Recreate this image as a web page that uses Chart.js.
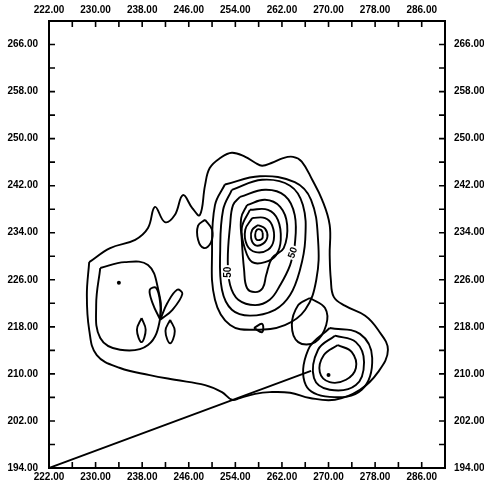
<!DOCTYPE html>
<html>
<head>
<meta charset="utf-8">
<script src="https://cdn.jsdelivr.net/npm/chart.js@4"></script>
<style>
html, body { margin: 0; padding: 0; background: #fff; }
</style>
</head>
<body>
<canvas id="chart" width="484" height="491"></canvas>
<script>
// axis ranges and tick labels
var xTickLabels = [222, 230, 238, 246, 254, 262, 270, 278, 286];
var yTickLabels = [194, 202, 210, 218, 226, 234, 242, 250, 258, 266];

// contour lines, [x, y] in map units
var outer = [[228.9,229.0],[232.5,231.4],[236.8,232.8],[239.0,234.8],[240.2,238.4],[241.9,235.8],[243.6,237.0],[245.0,240.4],[246.6,238.2],[247.9,237.0],[248.8,242.1],[249.6,245.0],[251.4,246.7],[253.4,247.6],[255.7,246.9],[257.4,245.9],[258.6,245.4],[260.3,245.9],[262.2,246.7],[263.9,246.9],[265.4,246.1],[267.2,243.0],[268.9,239.6],[270.2,235.3],[270.2,230.2],[270.4,226.0],[270.9,223.1],[272.8,221.6],[276.3,219.9],[278.5,217.5],[280.2,214.1],[278.5,210.3],[275.4,207.3],[271.1,205.6],[266.8,205.9],[263.4,206.8],[259.9,206.9],[257.4,206.6],[254.8,205.9],[253.4,205.6],[251.7,206.9],[248.8,208.1],[243.6,209.0],[239.3,209.8],[234.2,211.0],[230.2,213.2],[228.9,217.5],[228.5,223.4]];

var hill1 = [[258.7,234.0],[258.6,233.0],[257.7,232.8],[257.4,233.6],[257.7,234.5],[258.4,234.5]];
var hill2 = [[257.9,235.3],[259.1,234.7],[259.5,233.3],[258.7,232.1],[257.4,231.9],[256.7,233.1],[256.9,234.5]];
var hill3 = [[256.9,236.5],[259.1,236.5],[260.3,235.3],[260.6,232.8],[259.6,231.1],[257.5,230.7],[256.0,231.9],[255.7,234.5]];
var hill4 = [[256.5,237.9],[259.6,237.9],[261.3,236.2],[261.8,232.8],[261.0,230.2],[259.1,229.0],[256.9,229.0],[255.7,231.1],[255.1,234.8]];
var hill5 = [[256.0,238.7],[259.1,239.6],[261.7,238.4],[262.9,235.3],[262.3,231.4],[260.3,229.7],[259.3,226.8],[258.7,224.6],[257.4,223.9],[256.0,224.6],[255.5,227.7],[255.1,232.8],[255.0,236.5]];
var hill6 = [[254.8,240.1],[259.1,241.3],[262.5,240.3],[264.2,237.0],[264.2,231.9],[263.4,228.5],[261.7,225.1],[259.9,222.6],[257.4,221.7],[254.5,222.6],[253.1,225.1],[252.7,229.4],[253.1,235.3],[253.6,238.7]];
var hill7 = [[253.4,241.3],[258.6,243.0],[263.4,242.0],[265.6,238.7],[266.0,232.8],[265.1,227.7],[263.4,223.4],[260.8,220.9],[256.5,219.9],[253.4,220.9],[251.7,224.3],[251.4,231.1],[251.9,237.9]];
var hill8 = [[252.2,242.2],[258.2,243.6],[264.2,242.6],[267.0,239.6],[268.2,232.8],[267.9,226.0],[266.0,220.9],[262.5,218.3],[257.4,217.5],[253.1,218.3],[250.5,222.6],[250.0,231.1],[250.5,238.7]];
var westOval = [[248.8,236.2],[250.0,234.5],[249.8,232.3],[248.6,231.4],[247.6,232.8],[247.6,235.2]];

var eastPeak1 = [[271.6,214.9],[274.0,213.7],[274.7,211.0],[273.0,209.0],[270.2,208.6],[268.5,210.3],[269.2,213.2]];
var eastPeak2 = [[271.1,216.5],[274.7,215.4],[276.1,212.0],[274.7,208.1],[270.2,207.3],[267.5,209.3],[268.2,214.1]];
var eastPeak3 = [[270.2,217.8],[275.4,216.8],[277.5,212.7],[275.7,207.3],[270.2,206.1],[266.1,208.1],[266.5,214.1]];
var eastOval = [[266.8,222.9],[269.4,221.2],[269.6,218.3],[267.7,215.4],[264.8,215.4],[263.7,218.3],[264.8,221.7]];

var leftLobe = [[230.8,228.0],[235.0,229.0],[239.0,228.5],[240.7,224.6],[241.1,219.5],[239.0,214.9],[234.2,214.1],[230.8,216.1],[230.1,221.7]];
var wingA = [[241.1,219.2],[239.8,222.0],[239.3,224.3],[240.4,224.6],[241.1,222.0]];
var wingB = [[241.1,219.2],[242.3,222.0],[244.0,224.3],[244.9,223.6],[243.2,220.9]];
var dropA = [[237.9,219.5],[238.6,217.5],[237.9,215.4],[237.1,217.5]];
var dropB = [[242.8,219.2],[243.6,217.3],[242.8,215.2],[242.0,217.3]];
var notch = [[257.2,217.8],[258.6,218.5],[258.6,217.1]];

var spokeLine = [[222.0,194.0],[267.0,210.5]];
var peakDots = [[234.0,225.5],[270.0,209.8]];

var contourLabels = [
  { text: '50', x: 252.7, y: 227.3, angle: -90 },
  { text: '50', x: 263.9, y: 230.6, angle: -70 }
];

function pts(a) {
  return a.map(function(p) { return { x: p[0], y: p[1] }; });
}
function loop(a) {
  return pts(a.concat([a[0]]));
}

var loops = [outer, hill1, hill2, hill3, hill4, hill5, hill6, hill7, hill8, westOval,
  eastPeak1, eastPeak2, eastPeak3, eastOval, leftLobe, wingA, wingB, dropA, dropB, notch];

var datasets = loops.map(function(c) {
  return {
    data: loop(c),
    showLine: true,
    borderColor: '#000',
    borderWidth: 1.9,
    pointRadius: 0,
    tension: 0.4,
    fill: false
  };
});
datasets.push({
  data: pts(spokeLine),
  showLine: true,
  borderColor: '#000',
  borderWidth: 1.9,
  pointRadius: 0,
  tension: 0
});
datasets.push({
  data: pts(peakDots),
  showLine: false,
  pointRadius: 2,
  pointBackgroundColor: '#000',
  pointBorderWidth: 0
});

// tick marks pointing into the plot, plus the contour level labels
var innerTicks = {
  id: 'innerTicks',
  afterDatasetsDraw: function(chart) {
    var ctx = chart.ctx;
    var a = chart.chartArea;
    var len = 6;
    ctx.save();
    ctx.strokeStyle = '#000';
    ctx.lineWidth = 1.6;
    ctx.beginPath();
    ['x', 'x2'].forEach(function(id) {
      var s = chart.scales[id];
      s.ticks.forEach(function(t) {
        var px = s.getPixelForValue(t.value);
        if (id == 'x') { ctx.moveTo(px, a.bottom); ctx.lineTo(px, a.bottom - len); }
        else { ctx.moveTo(px, a.top); ctx.lineTo(px, a.top + len); }
      });
    });
    ['y', 'y2'].forEach(function(id) {
      var s = chart.scales[id];
      s.ticks.forEach(function(t) {
        var py = s.getPixelForValue(t.value);
        if (id == 'y') { ctx.moveTo(a.left, py); ctx.lineTo(a.left + len, py); }
        else { ctx.moveTo(a.right, py); ctx.lineTo(a.right - len, py); }
      });
    });
    ctx.stroke();

    ctx.font = 'bold 10px "Liberation Sans"';
    ctx.textAlign = 'center';
    ctx.textBaseline = 'middle';
    contourLabels.forEach(function(l) {
      var px = chart.scales.x.getPixelForValue(l.x);
      var py = chart.scales.y.getPixelForValue(l.y);
      ctx.save();
      ctx.translate(px, py);
      ctx.rotate(l.angle * Math.PI / 180);
      ctx.fillStyle = '#fff';
      ctx.fillRect(-7, -5, 14, 10);
      ctx.fillStyle = '#000';
      ctx.fillText(l.text, 0, 0);
      ctx.restore();
    });
    ctx.restore();
  }
};

function xLabel(v) {
  return xTickLabels.indexOf(v) >= 0 ? v.toFixed(2) : '';
}
function yLabel(v) {
  return yTickLabels.indexOf(v) >= 0 ? v.toFixed(2) : '';
}

var tickFont = { family: 'Liberation Sans', weight: 'bold', size: 10 };

function xAxis(pos, size, pad) {
  return {
    type: 'linear', axis: 'x', position: pos, min: 222, max: 290,
    grid: { display: false, drawTicks: false },
    border: { display: true, color: '#000', width: 2 },
    ticks: { stepSize: 4, autoSkip: false, maxRotation: 0, padding: pad, color: '#000', font: tickFont, callback: xLabel },
    afterFit: function(s) { s.height = size; }
  };
}
function yAxis(pos, size, pad) {
  return {
    type: 'linear', axis: 'y', position: pos, min: 194, max: 270,
    grid: { display: false, drawTicks: false },
    border: { display: true, color: '#000', width: 2 },
    ticks: { stepSize: 4, autoSkip: false, padding: pad, color: '#000', font: tickFont, callback: yLabel },
    afterFit: function(s) { s.width = size; }
  };
}

window.onload = function() {
  var ctx = document.getElementById('chart').getContext('2d');
  window.theChart = new Chart(ctx, {
    type: 'scatter',
    data: { datasets: datasets },
    options: {
      responsive: false,
      animation: false,
      layout: { padding: 0 },
      plugins: { legend: { display: false }, tooltip: { enabled: false } },
      scales: {
        x: xAxis('bottom', 23, 3),
        x2: xAxis('top', 21, 5),
        y: yAxis('left', 49, 11),
        y2: yAxis('right', 39, 9)
      }
    },
    plugins: [innerTicks]
  });
};
</script>
</body>
</html>
